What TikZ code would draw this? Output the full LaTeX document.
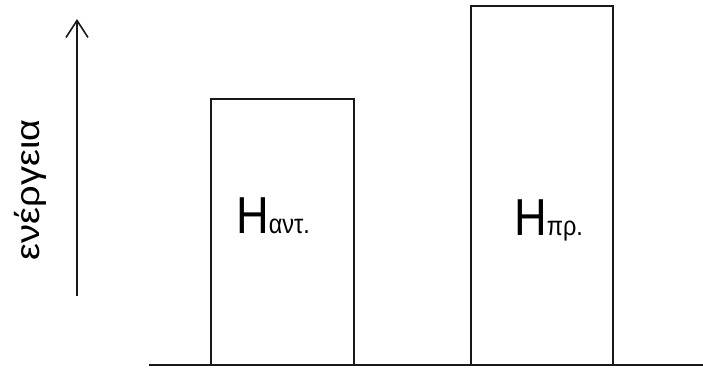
\documentclass[tikz,border=0pt]{standalone}
\usepackage{fontspec}
\usepackage{graphicx}
\setmainfont{Liberation Sans}
\usetikzlibrary{arrows.meta}
\begin{document}
\begin{tikzpicture}[x=1pt,y=1pt,
  lin/.style={line width=1.6pt,draw=black!90},
  bigH/.style={inner sep=0pt,anchor=base west}]
\useasboundingbox (0,0) rectangle (703,-367);
% baseline
\coordinate (bl) at (149,-365);
\coordinate (br) at (703,-365);
\draw[lin] (bl) -- (br);
% boxes
\draw[lin] (211,-365) -- (211,-99) -- (354,-99) -- (354,-365);
\draw[lin] (471,-365) -- (471,-6) -- (613,-6) -- (613,-365);
% arrow
\coordinate (a0) at (77,-296);
\coordinate (a1) at (77,-19);
\draw[lin,-{Straight Barb[length=17pt,width=22pt]}] (a0) -- (a1);
% axis label
\node[rotate=90,inner sep=0pt] (en) at (30,-190) {\scalebox{1}[0.88]{\fontsize{38}{38}\selectfont ενέργεια}};
% labels
\node[bigH] (h1) at (236,-233) {\scalebox{0.87}[1]{\fontsize{52}{52}\selectfont H\fontsize{27}{27}\selectfont αντ.}};
\node[bigH] (h2) at (514,-235) {\scalebox{0.87}[1]{\fontsize{52}{52}\selectfont H\fontsize{27}{27}\selectfont πρ.}};
\end{tikzpicture}
\end{document}
